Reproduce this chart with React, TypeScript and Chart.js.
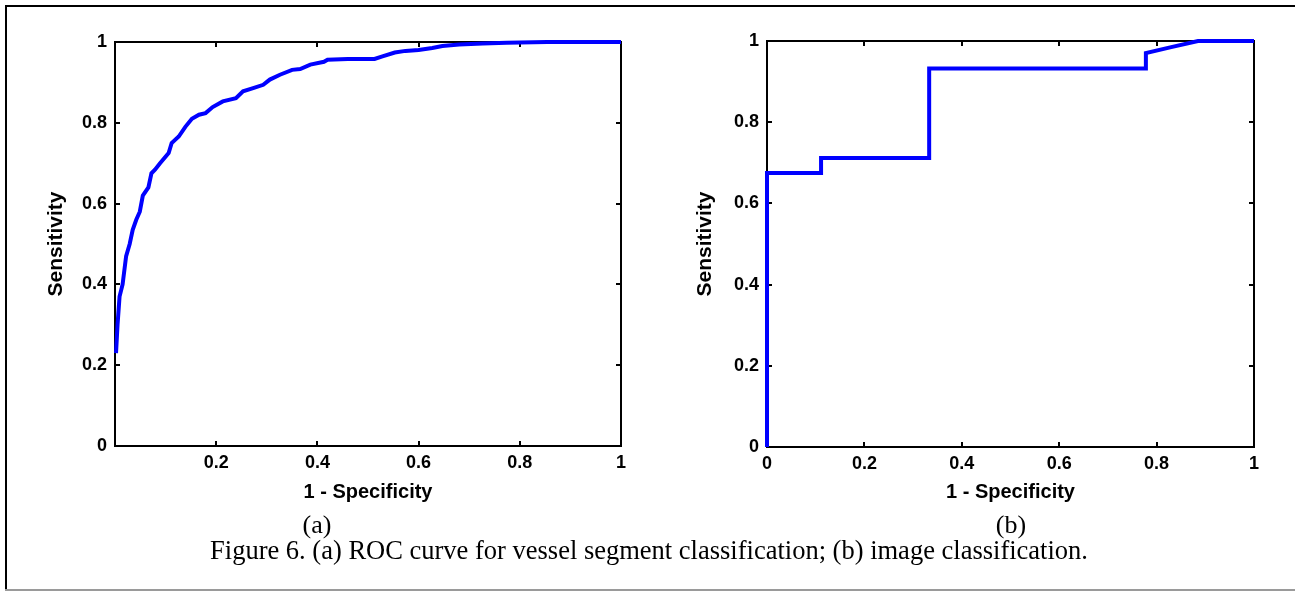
import React, { useEffect, useRef } from "react";
import { Chart, registerables } from "chart.js";

Chart.register(...registerables);

// ---- Data: (a) ROC for vessel segment classification ----
const fprA = [0.002, 0.005, 0.009, 0.015, 0.022, 0.029, 0.035, 0.042, 0.049, 0.055, 0.066, 0.072, 0.079, 0.089, 0.106, 0.112, 0.126, 0.139, 0.152, 0.166, 0.179, 0.193, 0.213, 0.239, 0.253, 0.273, 0.293, 0.306, 0.326, 0.35, 0.366, 0.386, 0.413, 0.42, 0.46, 0.513, 0.527, 0.553, 0.574, 0.6, 0.627, 0.647, 0.68, 0.727, 0.774, 0.854, 1.0];
const tprA = [0.23, 0.30, 0.37, 0.40, 0.47, 0.50, 0.535, 0.56, 0.58, 0.62, 0.64, 0.675, 0.684, 0.70, 0.725, 0.75, 0.766, 0.79, 0.81, 0.82, 0.824, 0.839, 0.853, 0.861, 0.878, 0.886, 0.894, 0.907, 0.919, 0.931, 0.933, 0.944, 0.951, 0.956, 0.958, 0.958, 0.964, 0.974, 0.978, 0.98, 0.985, 0.99, 0.994, 0.996, 0.998, 1.0, 1.0];

// ---- Data: (b) ROC for image classification ----
const fprB = [0, 0, 0.111, 0.111, 0.333, 0.333, 0.778, 0.778, 0.83, 0.885, 1];
const tprB = [0, 0.675, 0.675, 0.712, 0.712, 0.932, 0.932, 0.97, 0.985, 1, 1];

// ---- Tick values and labels ----
const xTicksA = [0.2, 0.4, 0.6, 0.8, 1];
const xTickLabelsA = ["0.2", "0.4", "0.6", "0.8", "1"];
const xTicksB = [0, 0.2, 0.4, 0.6, 0.8, 1];
const xTickLabelsB = ["0", "0.2", "0.4", "0.6", "0.8", "1"];
const yTicks = [0, 0.2, 0.4, 0.6, 0.8, 1];
const yTickLabels = ["0", "0.2", "0.4", "0.6", "0.8", "1"];

const xTitle = "1 - Specificity";
const yTitle = "Sensitivity";
const captionText = "Figure 6. (a) ROC curve for vessel segment classification; (b) image classification.";

const SANS = "'Liberation Sans', Arial, sans-serif";
const SERIF = "'Liberation Serif', 'Times New Roman', serif";

const framePlugin = {
  id: "matlabFrame",
  beforeDatasetsDraw(chart: any) {
    const { ctx, chartArea: a, scales } = chart;
    ctx.save();
    ctx.strokeStyle = "#000";
    ctx.lineWidth = 2;
    ctx.strokeRect(a.left, a.top, a.right - a.left, a.bottom - a.top);
    const tl = 5;
    ctx.beginPath();
    scales.x.ticks.forEach((t: any) => {
      const px = Math.round(scales.x.getPixelForValue(t.value));
      ctx.moveTo(px, a.bottom);
      ctx.lineTo(px, a.bottom - tl);
      ctx.moveTo(px, a.top);
      ctx.lineTo(px, a.top + tl);
    });
    scales.y.ticks.forEach((t: any) => {
      const py = Math.round(scales.y.getPixelForValue(t.value));
      ctx.moveTo(a.left, py);
      ctx.lineTo(a.left + tl, py);
      ctx.moveTo(a.right, py);
      ctx.lineTo(a.right - tl, py);
    });
    ctx.stroke();
    ctx.restore();
  },
};

type RocProps = {
  left: number;
  top: number;
  width: number;
  height: number;
  fpr: number[];
  tpr: number[];
  xTicks: number[];
  xLabels: string[];
  padTop: number;
  padRight: number;
  yAxisW: number;
  xAxisH: number;
  yTitleOffset: number;
};

function RocChart(p: RocProps) {
  const ref = useRef<HTMLCanvasElement>(null);
  useEffect(() => {
    if (!ref.current) return;
    const points = p.fpr.map((x, i) => ({ x, y: p.tpr[i] }));
    const chart = new Chart(ref.current, {
      type: "scatter",
      data: {
        datasets: [
          {
            data: points,
            showLine: true,
            borderColor: "#0000ff",
            backgroundColor: "#0000ff",
            borderWidth: 4,
            pointRadius: 0,
            tension: 0,
            borderJoinStyle: "miter",
            borderCapStyle: "butt",
            clip: false,
          } as any,
        ],
      },
      options: {
        responsive: false,
        maintainAspectRatio: false,
        animation: false,
        events: [],
        layout: { padding: { left: 0, top: p.padTop, right: p.padRight, bottom: 0 } },
        plugins: { legend: { display: false }, tooltip: { enabled: false }, title: { display: false } },
        scales: {
          x: {
            type: "linear",
            min: 0,
            max: 1,
            grid: { display: false, drawTicks: false },
            border: { display: false },
            afterBuildTicks: (s: any) => {
              s.ticks = p.xTicks.map((v) => ({ value: v }));
            },
            afterFit: (s: any) => {
              s.height = p.xAxisH;
            },
            ticks: {
              padding: 6,
              color: "#000",
              maxRotation: 0,
              autoSkip: false,
              font: { family: SANS, size: 18, weight: "bold" },
              callback: (v: any) => {
                const i = p.xTicks.indexOf(Number(v));
                return i >= 0 ? p.xLabels[i] : "";
              },
            },
            title: {
              display: true,
              text: xTitle,
              color: "#000",
              font: { family: SANS, size: 20, weight: "bold" },
              padding: { top: 0, bottom: 8 },
            },
          },
          y: {
            type: "linear",
            min: 0,
            max: 1,
            grid: { display: false, drawTicks: false },
            border: { display: false },
            afterBuildTicks: (s: any) => {
              s.ticks = yTicks.map((v) => ({ value: v }));
            },
            afterFit: (s: any) => {
              s.width = p.yAxisW;
            },
            ticks: {
              padding: 8,
              color: "#000",
              autoSkip: false,
              font: { family: SANS, size: 18, weight: "bold" },
              callback: (v: any) => {
                const i = yTicks.indexOf(Number(v));
                return i >= 0 ? yTickLabels[i] : "";
              },
            },
            title: {
              display: true,
              text: yTitle,
              color: "#000",
              font: { family: SANS, size: 21, weight: "bold" },
              padding: { top: p.yTitleOffset, bottom: 0 },
            },
          },
        },
      } as any,
      plugins: [framePlugin],
    });
    return () => chart.destroy();
  }, []);
  return (
    <canvas
      ref={ref}
      width={p.width}
      height={p.height}
      style={{ position: "absolute", left: p.left, top: p.top, width: p.width, height: p.height }}
    />
  );
}

const textCenter = (x: number, y: number, size: number): React.CSSProperties => ({
  position: "absolute",
  left: x,
  top: y,
  transform: "translate(-50%, -50%)",
  fontFamily: SERIF,
  fontSize: size,
  color: "#000",
  whiteSpace: "nowrap",
  lineHeight: 1,
});

export default function App() {
  return (
    <div style={{ position: "absolute", left: 0, top: 0, width: 1295, height: 592, background: "#fff", overflow: "hidden" }}>
      {/* outer figure border */}
      <div style={{ position: "absolute", left: 5, top: 5, width: 1290, height: 2, background: "#000" }} />
      <div style={{ position: "absolute", left: 5, top: 5, width: 2, height: 585, background: "#000" }} />
      <div style={{ position: "absolute", left: 5, top: 589, width: 1290, height: 2, background: "#9a9a9a" }} />

      <RocChart
        left={0}
        top={0}
        width={650}
        height={512}
        fpr={fprA}
        tpr={tprA}
        xTicks={xTicksA}
        xLabels={xTickLabelsA}
        padTop={42}
        padRight={29}
        yAxisW={115}
        xAxisH={66}
        yTitleOffset={44}
      />
      <RocChart
        left={650}
        top={0}
        width={645}
        height={512}
        fpr={fprB}
        tpr={tprB}
        xTicks={xTicksB}
        xLabels={xTickLabelsB}
        padTop={41}
        padRight={41}
        yAxisW={117}
        xAxisH={65}
        yTitleOffset={43}
      />

      <div style={textCenter(317, 525, 26)}>(a)</div>
      <div style={textCenter(1011, 525, 26)}>(b)</div>
      <div style={textCenter(649, 550, 26.5)}>{captionText}</div>
    </div>
  );
}
